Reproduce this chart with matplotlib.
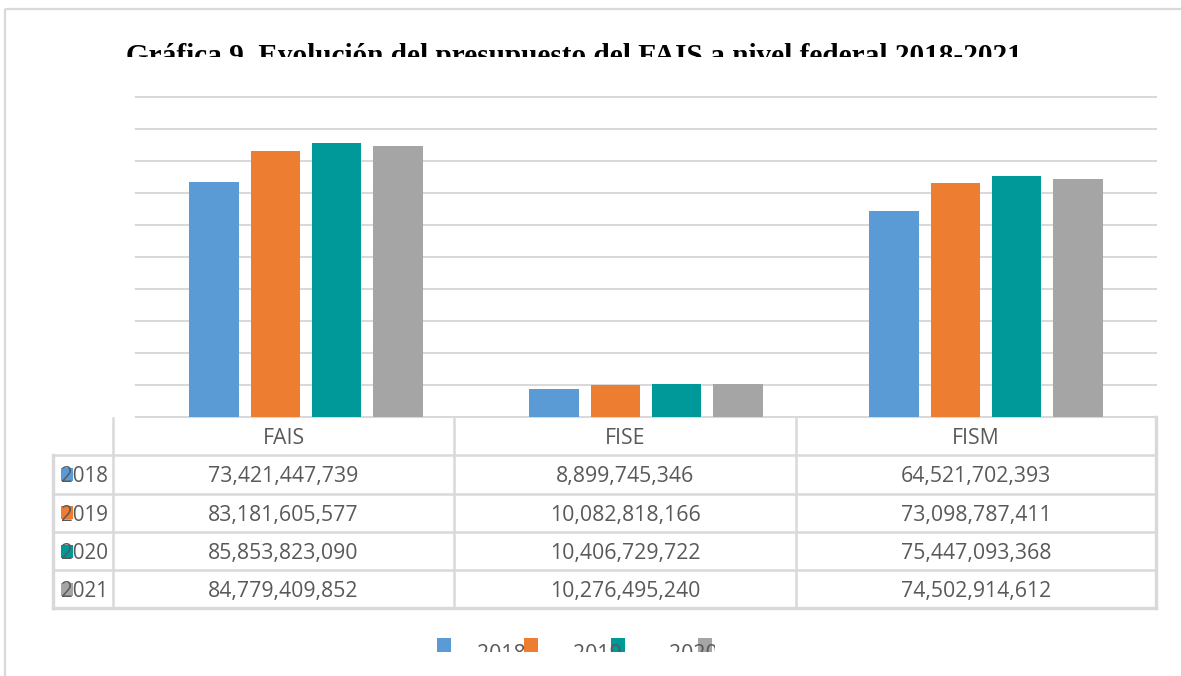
import matplotlib
matplotlib.use("Agg")
import matplotlib.pyplot as plt
from matplotlib.transforms import Bbox, TransformedBbox
from matplotlib.patches import Rectangle

# ---- data ----
categories = ["FAIS", "FISE", "FISM"]
years = ["2018", "2019", "2020", "2021"]
v2018 = [73421447739, 8899745346, 64521702393]
v2019 = [83181605577, 10082818166, 73098787411]
v2020 = [85853823090, 10406729722, 75447093368]
v2021 = [84779409852, 10276495240, 74502914612]
series = [v2018, v2019, v2020, v2021]
colors = ["#5B9BD5", "#ED7D31", "#009999", "#A5A5A5"]
title = "Gráfica 9. Evolución del presupuesto del FAIS a nivel federal 2018-2021"

W, H = 1181, 676
fig = plt.figure(figsize=(W / 100, H / 100), dpi=100)
fig.patch.set_facecolor("white")

GRID = "#D9D9D9"
TXT = "#595959"
TFONT = ["Open Sans", "DejaVu Sans"]


def fb(x0, y0, x1, y1):
    """pixel box (top-left origin) -> figure-fraction bbox"""
    return TransformedBbox(Bbox.from_extents(x0 / W, 1 - y1 / H, x1 / W, 1 - y0 / H), fig.transFigure)


# ---- bar axes ----
ax_l, ax_r, ax_t, ax_b = 136, 1156, 97.3, 417.3
ax = fig.add_axes([ax_l / W, 1 - ax_b / H, (ax_r - ax_l) / W, (ax_b - ax_t) / H])
ax.set_xlim(-0.5, 2.5)
ax.set_ylim(0, 100e9)
for t in range(0, 101, 10):
    ax.axhline(t * 1e9, color=GRID, lw=1.5, zorder=0, clip_on=False)
step, bw = 0.18, 0.146
for k, (vals, c) in enumerate(zip(series, colors)):
    xs = [i + (k - 1.5) * step for i in range(len(categories))]
    ax.bar(xs, vals, width=bw, color=c, zorder=2)
ax.set_axis_off()

# ---- overlay in pixel coordinates ----
ov = fig.add_axes([0, 0, 1, 1], zorder=5)
ov.set_xlim(0, W)
ov.set_ylim(H, 0)
ov.set_axis_off()
ov.patch.set_alpha(0)

# outer chart frame
ov.plot([5, W], [9, 9], color=GRID, lw=1.6, solid_capstyle="butt")
ov.plot([5, 5], [9, H], color=GRID, lw=1.6, solid_capstyle="butt")

# title (clipped at the bottom like the reference)
tt = fig.text(0.5, 0.5, title, ha="center", va="baseline", fontsize=20,
              fontweight="bold", family=["Liberation Serif", "DejaVu Serif"], color="black")
r = fig.canvas.get_renderer()
wpx = tt.get_window_extent(r).width
fs = 20 * 897 / wpx
tt.set_fontsize(fs)
fs_px = fs * 100 / 72
base_y = 45 + 0.662 * fs_px
tt.set_position(((125 + 1022) / 2 / W, 1 - base_y / H))
tt.set_clip_on(True)
tt.set_clip_box(fb(0, 30, W, 57))

# table geometry
col_x = [113, 454, 796, 1156]
lab_x0 = 53
head_top, head_bot = 418, 455
row_y = [455, 493.5, 532, 570, 608]
lw_t = 1.8
for y in row_y:
    ov.plot([lab_x0, col_x[-1]], [y, y], color=GRID, lw=lw_t, solid_capstyle="projecting")
ov.plot([lab_x0, lab_x0], [row_y[0], row_y[-1]], color=GRID, lw=lw_t + 0.6)
for x in col_x:
    ov.plot([x, x], [head_top, row_y[-1]], color=GRID, lw=lw_t)
ov.plot([col_x[-1], col_x[-1]], [head_top - 1, row_y[-1]], color=GRID, lw=lw_t + 0.6)
ov.plot([lab_x0, col_x[-1]], [row_y[-1], row_y[-1]], color=GRID, lw=lw_t + 0.6)

fsz = 15.3
for i, cat in enumerate(categories):
    cx = (col_x[i] + col_x[i + 1]) / 2
    ov.text(cx, (head_top + head_bot) / 2, cat, ha="center", va="center_baseline",
            fontsize=fsz, family=TFONT, color=TXT)
for k, (yr, vals, c) in enumerate(zip(years, series, colors)):
    cy = (row_y[k] + row_y[k + 1]) / 2
    ov.add_patch(Rectangle((61, cy - 6.5), 12, 13, color=c, lw=0))
    ov.text(61, cy, yr, ha="left", va="center_baseline", fontsize=fsz * 0.97,
            family=TFONT, color=TXT)
    for i, v in enumerate(vals):
        cx = (col_x[i] + col_x[i + 1]) / 2
        ov.text(cx, cy, f"{v:,}", ha="center", va="center_baseline",
                fontsize=fsz, family=TFONT, color=TXT)

# legend at the bottom (clipped like the reference)
leg_sq_x = [437, 524, 611, 698]
leg_tx_x = [477, 573, 669, 765]
clip = fb(430, 630, 715, 652)
for k, (yr, c) in enumerate(zip(years, colors)):
    ov.add_patch(Rectangle((leg_sq_x[k], 638), 14, 14, color=c, lw=0))
    lt = ov.text(leg_tx_x[k], 660, yr, ha="left", va="baseline", fontsize=fsz,
                 family=TFONT, color=TXT)
    lt.set_clip_on(True)
    lt.set_clip_box(clip)

fig.savefig("out.png", dpi=100, facecolor="white")
